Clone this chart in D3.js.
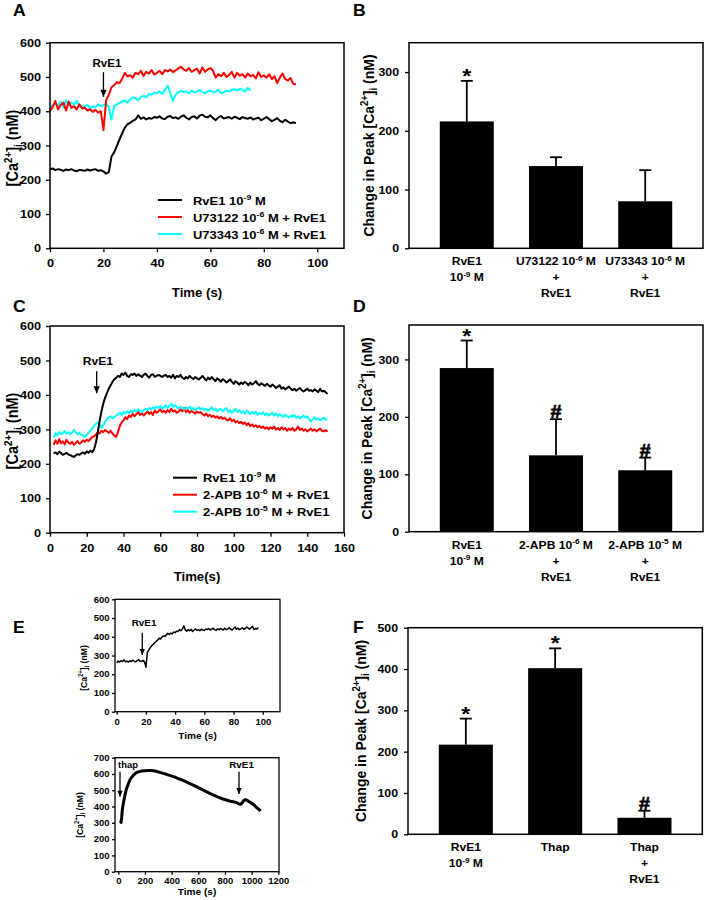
<!DOCTYPE html>
<html><head><meta charset="utf-8">
<script src="https://cdn.jsdelivr.net/npm/d3@7"></script>
<style>
body{margin:0;background:#fff}
svg{display:block}
text{font-family:"Liberation Sans",Arial,Helvetica,sans-serif;font-weight:bold;fill:#000}
</style>
</head><body>
<svg id="c" width="706" height="900"></svg>
<script>
// ---------------- DATA ----------------
// Panel A (time in s, 1 s steps starting at 0)
const aRvE1 = [
230,233,228,231,229,226,230,228,231,227,
225,229,228,226,230,227,229,231,226,228,
224,218,222,268,280,298,318,335,352,362,
366,372,376,388,378,382,376,380,378,383,
381,385,379,377,384,386,380,382,378,384,
388,381,376,383,385,379,387,390,384,382,
388,380,374,382,386,379,381,383,378,384,
381,377,383,380,378,382,376,379,381,374,
378,383,377,371,375,380,372,368,375,370,
365,368,365];
const aU73122 = [
400,412,430,405,418,425,402,428,410,415,
405,420,408,410,402,406,398,404,396,400,
345,432,448,470,476,485,482,495,512,502,
505,498,512,508,518,503,515,510,520,507,
512,518,508,520,516,522,514,519,525,530,
522,518,526,515,520,524,510,528,515,522,
526,518,498,508,502,512,500,506,515,498,
512,504,508,498,510,502,506,496,514,500,
505,498,508,494,502,482,498,510,494,490,
497,480,478];
const aU73343 = [
410,418,422,415,428,412,432,418,425,420,
430,414,416,412,418,410,414,412,420,415,
418,422,412,375,415,420,424,428,432,425,
435,440,438,432,442,445,440,450,448,455,
452,458,450,462,475,452,430,448,455,460,
456,458,452,460,455,458,462,456,452,458,
460,455,458,462,452,456,460,458,462,465,
460,466,462,458,468,460];

// Panel C (time in s, 1 s steps starting at 2)
const cRvE1 = [
230,233,228,235,231,226,229,232,227,225,
222,220,224,228,226,230,233,229,236,232,
238,234,242,262,290,325,352,375,392,405,
418,428,438,445,450,455,452,462,458,465,
455,452,460,458,462,455,460,456,452,458,
462,455,450,458,460,452,455,458,455,452,
456,458,452,455,450,458,448,455,452,458,
450,446,452,448,455,450,446,452,448,445,
450,455,448,442,450,445,452,446,440,448,
444,438,446,442,436,440,445,438,432,440,
435,430,436,432,438,434,428,436,430,434,
440,432,428,434,430,426,432,428,424,430,
426,420,424,428,418,422,416,420,424,418,
414,418,412,416,420,414,410,414,418,412,
414,410,416,412,408,418,410,412,408,403];
const cAPB6 = [
255,268,258,272,260,265,256,270,262,258,
264,255,260,266,258,262,268,264,270,266,
272,278,280,284,292,288,296,292,298,294,
290,296,288,282,278,292,310,320,326,335,
330,340,336,345,338,344,350,342,348,340,
346,352,345,350,342,355,348,352,358,350,
354,348,356,350,360,352,355,348,352,358,
352,362,350,356,348,354,350,346,352,348,
350,344,340,346,338,342,336,340,334,338,
332,336,330,334,328,326,332,324,328,320,
324,318,322,316,320,312,318,310,314,308,
312,306,310,304,308,302,306,300,306,302,
308,300,304,298,306,300,304,296,302,298,
304,296,300,308,298,302,296,300,294,298,
302,296,300,294,298,302,296,294,298,293];
const cAPB5 = [
276,288,284,292,286,290,295,288,292,286,
290,298,292,286,290,284,282,278,284,290,
296,302,310,316,320,314,305,312,322,330,
334,338,332,336,340,344,348,342,350,346,
352,348,354,350,356,352,358,354,350,356,
360,356,362,358,364,360,366,362,368,360,
364,370,362,368,374,366,370,364,360,366,
362,358,364,360,366,358,362,356,360,364,
358,362,356,360,354,358,364,356,360,352,
356,360,352,358,362,350,356,348,354,360,
350,356,348,352,346,354,350,344,350,346,
352,342,348,344,350,342,346,340,344,348,
340,346,338,344,340,336,342,338,334,340,
336,342,334,338,332,336,340,334,338,330,
322,330,334,328,332,326,330,334,328,330];

// Panel E top (1 s steps starting at 0)
const eRvE1 = [
262,270,265,272,268,278,266,270,264,272,
268,275,270,266,272,278,270,268,274,266,
238,315,330,342,352,360,368,375,382,392,
388,398,405,402,410,418,412,420,415,425,
422,430,428,438,432,442,458,436,430,438,
432,440,428,436,442,434,438,432,440,436,
434,442,438,444,436,440,446,438,434,442,
438,444,440,436,446,438,442,448,440,436,
444,452,440,446,438,442,448,440,444,452,
446,440,448,456,438,444,442,450];
// Panel E bottom (thapsigargin then RvE1)
const eThapTime = [12,15,20,25,30,40,50,60,75,90,110,130,150,175,200,225,250,275,300,330,360,390,420,450,480,510,540,570,600,630,660,690,720,750,780,810,840,870,890,900,910,920,930,940,950,960,970,980,990,1000,1010,1020,1030,1040,1050,1060,1065];
const eThapCa   = [298,300,302,330,380,430,470,505,540,568,590,605,613,618,620,622,621,618,613,605,598,590,582,572,562,552,540,528,516,504,492,480,468,458,448,440,433,428,424,418,414,416,424,436,442,440,436,430,426,420,414,408,400,392,386,378,372];

// Bar panels
const bCats = [["RvE1","10^{-9} M"],["U73122 10^{-6} M","+","RvE1"],["U73343 10^{-6} M","+","RvE1"]];
const bMean = [216,140,80];
const bErr  = [69,15,53];
const bMark = ["*","",""];
const dCats = [["RvE1","10^{-9} M"],["2-APB 10^{-6} M","+","RvE1"],["2-APB 10^{-5} M","+","RvE1"]];
const dMean = [285,133,107];
const dErr  = [48,63,22];
const dMark = ["*","#","#"];
const fCats = [["RvE1","10^{-9} M"],["Thap"],["Thap","+","RvE1"]];
const fMean = [217,402,40];
const fErr  = [63,48,17];
const fMark = ["*","*","#"];

const ticks600 = [0,100,200,300,400,500,600];
const ticks700 = [0,100,200,300,400,500,600,700];
const ticksA = [0,20,40,60,80,100];
const ticksC = [0,20,40,60,80,100,120,140,160];
const ticksE2 = [0,200,400,600,800,1000,1200];
const ticksB = [0,100,200,300];
const ticksF = [0,100,200,300,400,500];

// ---------------- DRAWING ----------------
const SX = 1.1; // horizontal stretch of the lettering
const svg = d3.select('#c');

function rich(t, str, fs) {
  const parts = str.split(/(\^\{[^}]*\}|_\{[^}]*\})/).filter(s => s.length);
  let shift = 0;
  parts.forEach(p => {
    let s = p, size = fs, ns = 0;
    if (p.startsWith('^{')) { s = p.slice(2, -1); size = fs * 0.68; ns = -fs * 0.4; }
    else if (p.startsWith('_{')) { s = p.slice(2, -1); size = fs * 0.68; ns = fs * 0.22; }
    t.append('tspan').attr('dy', ns - shift).attr('font-size', size).text(s);
    shift = ns;
  });
}
function txt(g, x, y, str, fs, anchor, rot) {
  const t = g.append('text').attr('font-size', fs).attr('text-anchor', anchor || 'middle')
    .attr('transform', `translate(${x},${y}) scale(${SX},1)` + (rot ? ` rotate(${rot})` : ''));
  rich(t, str, fs);
  return t;
}
function stretch(sel) {
  sel.each(function () {
    const t = d3.select(this);
    const x = +t.attr('x') || 0, y = +t.attr('y') || 0;
    t.attr('x', null).attr('y', null).attr('transform', `translate(${x},${y}) scale(${SX},1)`);
  });
}
function styleAxis(a, fs) {
  a.select('.domain').remove();
  a.attr('font-family', null).attr('font-size', null);
  a.selectAll('.tick line').attr('stroke', '#000').attr('stroke-width', 1.3);
  a.selectAll('.tick text').attr('font-size', fs).attr('fill', '#000');
  stretch(a.selectAll('.tick text'));
}
function frame(g, x0, y0, x1, y1, sw) {
  g.append('rect').attr('x', x0).attr('y', y0).attr('width', x1 - x0).attr('height', y1 - y0)
    .attr('fill', 'none').attr('stroke', '#000').attr('stroke-width', sw || 1.5);
}
function arrow(g, x, ya, yb, head) {
  g.append('path').attr('d', `M${x},${ya}L${x},${yb}`).attr('stroke', '#000').attr('stroke-width', 1.3).attr('fill', 'none');
  g.append('path').attr('d', `M${x - head * 0.45},${yb - head}L${x},${yb}L${x + head * 0.45},${yb - head}Z`).attr('fill', '#000');
}
const fmt = d3.format('d');

function linePanel(c) {
  const g = svg.append('g');
  const x = d3.scaleLinear().domain(c.xDomain).range([c.x0, c.x1]);
  const y = d3.scaleLinear().domain(c.yDomain).range([c.y1, c.y0]);
  const ax = g.append('g').attr('transform', `translate(0,${c.y1})`)
    .call(d3.axisBottom(x).tickValues(c.xTicks).tickFormat(fmt).tickSize(c.tick).tickSizeOuter(0).tickPadding(c.xPad));
  styleAxis(ax, c.fs);
  const ay = g.append('g').attr('transform', `translate(${c.x0},0)`)
    .call(d3.axisLeft(y).tickValues(c.yTicks).tickFormat(fmt).tickSize(c.tick).tickSizeOuter(0).tickPadding(c.yPad));
  styleAxis(ay, c.fs);
  c.series.forEach(s => {
    const line = d3.line().x((d, i) => x(s.t ? s.t[i] : s.t0 + i * s.dt)).y(d => y(d));
    g.append('path').datum(s.v).attr('d', line).attr('fill', 'none')
      .attr('stroke', s.color).attr('stroke-width', s.w || 2).attr('stroke-linejoin', 'round');
  });
  frame(g, c.x0, c.y0, c.x1, c.y1, c.frameW);
  (c.arrows || []).forEach(a => {
    arrow(g, x(a.t), y(a.from), y(a.to), a.head || 7);
    txt(g, x(a.lt), y(a.ly), a.label, a.fs, a.anchor || 'middle');
  });
  return { g, x, y };
}

function barPanel(c) {
  const g = svg.append('g');
  const idx = c.cats.map((d, i) => i);
  const x = d3.scaleBand().domain(idx).range([c.x0, c.x1]).paddingInner(0.395).paddingOuter(0.345);
  const y = d3.scaleLinear().domain([0, c.yMax]).range([c.y1, c.y0]);
  const ay = g.append('g').attr('transform', `translate(${c.x0},0)`)
    .call(d3.axisLeft(y).tickValues(c.yTicks).tickFormat(fmt).tickSize(4).tickSizeOuter(0).tickPadding(c.yPad));
  styleAxis(ay, c.fs);
  idx.forEach(i => {
    const cx = x(i) + x.bandwidth() / 2;
    const yTop = y(c.mean[i] + c.err[i]);
    g.append('line').attr('x1', cx).attr('x2', cx).attr('y1', y(c.mean[i])).attr('y2', yTop)
      .attr('stroke', '#000').attr('stroke-width', 1.8);
    g.append('line').attr('x1', cx - 6).attr('x2', cx + 6).attr('y1', yTop).attr('y2', yTop)
      .attr('stroke', '#000').attr('stroke-width', 1.8);
    g.append('rect').attr('x', x(i)).attr('y', y(c.mean[i])).attr('width', x.bandwidth())
      .attr('height', y(0) - y(c.mean[i])).attr('fill', '#000');
    if (c.mark[i] === '*') txt(g, cx, yTop + 2, '*', 21);
    else if (c.mark[i]) txt(g, cx, yTop - 1, c.mark[i], 18).attr('stroke', '#000').attr('stroke-width', 0.6);
    c.cats[i].forEach((ln, k) => txt(g, cx, c.y1 + 17 + k * 16, ln, c.catFs));
  });
  frame(g, c.x0, c.y0, c.x1, c.y1, 1.5);
  txt(g, c.titleX, (c.y0 + c.y1) / 2, "Change in Peak [Ca^{2+}]_{i} (nM)", c.titleFs, 'middle', -90);
  return g;
}

// ----- Panel A -----
linePanel({
  x0: 50, x1: 344, y0: 42.7, y1: 248.3, xDomain: [0, 110], yDomain: [0, 600],
  xTicks: ticksA, yTicks: ticks600, tick: 4, xPad: 7, yPad: 5, fs: 11.5,
  series: [
    { v: aRvE1, t0: 0, dt: 1, color: '#000' },
    { v: aU73343, t0: 0, dt: 1, color: '#00ffff' },
    { v: aU73122, t0: 0, dt: 1, color: '#ff0000' }],
  arrows: [{ t: 20, from: 514, to: 442, lt: 21.3, ly: 529, label: 'RvE1', fs: 10.5 }]
});
// ----- Panel C -----
linePanel({
  x0: 50, x1: 344, y0: 326, y1: 532.7, xDomain: [0, 160], yDomain: [0, 600],
  xTicks: ticksC, yTicks: ticks600, tick: 4, xPad: 7, yPad: 5, fs: 11.5,
  series: [
    { v: cAPB6, t0: 2, dt: 1, color: '#ff0000' },
    { v: cAPB5, t0: 2, dt: 1, color: '#00ffff' },
    { v: cRvE1, t0: 2, dt: 1, color: '#000' }],
  arrows: [{ t: 25.4, from: 469, to: 405, lt: 26.1, ly: 487, label: 'RvE1', fs: 11 }]
});
// ----- Panel E top -----
linePanel({
  x0: 115, x1: 280, y0: 599.3, y1: 711.7, xDomain: [-1.16, 111.8], yDomain: [0, 600],
  xTicks: ticksA, yTicks: ticks600, tick: 3, xPad: 4.5, yPad: 2.5, fs: 8.6, frameW: 1.3,
  series: [{ v: eRvE1, t0: 0, dt: 1, color: '#000', w: 1.5 }],
  arrows: [{ t: 17.5, from: 422, to: 303, lt: 18.7, ly: 458, label: 'RvE1', fs: 9, head: 6 }]
});
// ----- Panel E bottom -----
linePanel({
  x0: 115, x1: 279, y0: 757.7, y1: 871.7, xDomain: [-24.8, 1205], yDomain: [0, 700],
  xTicks: ticksE2, yTicks: ticks700, tick: 3, xPad: 3.5, yPad: 2.5, fs: 8.6, frameW: 1.3,
  series: [{ v: eThapCa, t: eThapTime, color: '#000', w: 3 }],
  arrows: [
    { t: 12.7, from: 614, to: 460, lt: -2, ly: 637, label: 'thap', fs: 8.6, anchor: 'start', head: 6 },
    { t: 905, from: 614, to: 477, lt: 924, ly: 637, label: 'RvE1', fs: 9, head: 6 }]
});

// ----- Bars -----
barPanel({ x0: 409, x1: 703, y0: 42.7, y1: 248.3, yMax: 350, yTicks: ticksB, yPad: 6, fs: 11.2,
  cats: bCats, mean: bMean, err: bErr, mark: bMark, catFs: 11, titleX: 374, titleFs: 14 });
barPanel({ x0: 409, x1: 703, y0: 325, y1: 531.7, yMax: 360, yTicks: ticksB, yPad: 6, fs: 11.2,
  cats: dCats, mean: dMean, err: dErr, mark: dMark, catFs: 11, titleX: 372, titleFs: 14 });
barPanel({ x0: 408, x1: 702.3, y0: 627.7, y1: 834.3, yMax: 500, yTicks: ticksF, yPad: 6, fs: 11.2,
  cats: fCats, mean: fMean, err: fErr, mark: fMark, catFs: 11, titleX: 366, titleFs: 14 });

// ----- Axis titles, legends, panel letters -----
const ann = svg.append('g');
txt(ann, 18, 148, "[Ca^{2+}]_{i} (nM)", 14.5, 'middle', -90);
txt(ann, 18, 431, "[Ca^{2+}]_{i} (nM)", 14.5, 'middle', -90);
txt(ann, 86.5, 668, "[Ca^{2+}]_{i} (nM)", 8.6, 'middle', -90);
txt(ann, 83, 815, "[Ca^{2+}]_{i} (nM)", 8.6, 'middle', -90);
txt(ann, 197, 297, "Time (s)", 12);
txt(ann, 197, 581, "Time(s)", 12);
txt(ann, 197.5, 739, "Time (s)", 9.2);
txt(ann, 197, 895, "Time (s)", 9.2);

const legA = [["RvE1 10^{-9} M", '#000'], [" U73122 10^{-6} M + RvE1", '#ff0000'], [" U73343 10^{-6} M + RvE1", '#00ffff']];
legA.forEach((d, i) => {
  const yy = 200 + i * 17;
  ann.append('line').attr('x1', 158).attr('x2', 182).attr('y1', yy).attr('y2', yy).attr('stroke', d[1]).attr('stroke-width', 2);
  txt(ann, 193, yy + 4.5, d[0], 11.8, 'start');
});
const legC = [["RvE1 10^{-9} M", '#000'], ["2-APB 10^{-6} M + RvE1", '#ff0000'], ["2-APB 10^{-5} M + RvE1", '#00ffff']];
legC.forEach((d, i) => {
  const yy = 477.7 + i * 17;
  ann.append('line').attr('x1', 173).attr('x2', 197).attr('y1', yy).attr('y2', yy).attr('stroke', d[1]).attr('stroke-width', 2);
  txt(ann, 203, yy + 4.5, d[0], 11.8, 'start');
});
[["A", 13, 15.5], ["B", 353, 15.5], ["C", 13, 312], ["D", 353, 312], ["E", 13, 632.5], ["F", 353, 632.5]]
  .forEach(d => txt(ann, d[1], d[2], d[0], 16, 'start'));
</script>
</body></html>
